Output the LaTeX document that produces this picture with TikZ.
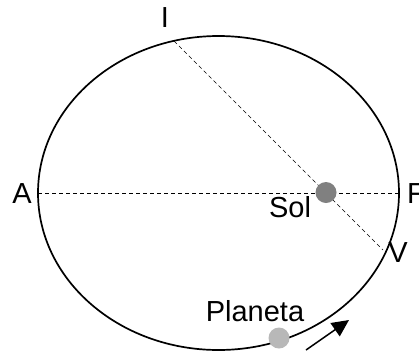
\documentclass[tikz,border=0pt]{standalone}
\usepackage{fontspec}
\setmainfont{Liberation Sans}
\usetikzlibrary{arrows.meta}

\begin{document}
\begin{tikzpicture}[
    x=1pt, y=-1pt,
    >={Triangle[length=17pt,width=16pt]},
    font=\fontsize{29}{32}\selectfont,
    orbit/.style={line width=1.7pt},
    axis/.style={dashed, line width=0.7pt, dash pattern=on 4pt off 3pt},
    lbl/.style={anchor=base, inner sep=0pt},
    body/.style={circle, inner sep=0pt, minimum size=21pt},
]
\useasboundingbox (0,0) rectangle (419,354);

% --- orbit ---
\draw[orbit] (218.5,193) ellipse [x radius=180.5, y radius=157];

% --- points on the orbit ---
\coordinate (a) at (38,193);
\coordinate (f) at (399,193);
\coordinate (i) at (174,41);
\coordinate (v) at (383,250);

% --- axes through the sun ---
\draw[axis] (a) -- (f);
\draw[axis, line width=0.5pt] (i) -- (v);

% --- bodies ---
\node[body, fill=black!50] (sol) at (326,192.5) {};
\node[body, fill=black!28] (planeta) at (279,338) {};

% --- labels ---
\node[lbl] (lA) at (22,203) {A};
\node[lbl, anchor=base west] (lF) at (407,203) {F};
\node[lbl] (lI) at (165,27) {I};
\node[lbl] (lV) at (398,262) {V};
\node[lbl] (lsol) at (290,217) {Sol};
\node[lbl] (lplaneta) at (255,321) {Planeta};

% --- direction of motion ---
\coordinate (m0) at (306,350);
\coordinate (m1) at (349,320);
\draw[->, line width=1.5pt] (m0) -- (m1);
\end{tikzpicture}
\end{document}
